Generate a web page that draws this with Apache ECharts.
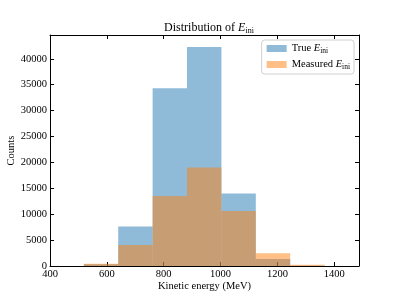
<!DOCTYPE html>
<html><head><meta charset="utf-8">
<script src="https://cdn.jsdelivr.net/npm/echarts@6/dist/echarts.min.js"></script>
<style>html,body{margin:0;padding:0;background:#fff}#c{width:399px;height:299px}</style>
</head><body><div id="c"></div>
<script>
var binEdges = [519, 640, 761, 882, 1003, 1124, 1245, 1366];
var trueCounts = [350, 7650, 34300, 42300, 14000, 1350, 60];
var measuredCounts = [450, 4050, 13500, 19000, 10600, 2450, 220];
var xTicks = [400, 600, 800, 1000, 1200, 1400];
var yTicks = [0, 5000, 10000, 15000, 20000, 25000, 30000, 35000, 40000];

function toData(counts){
  var d = [];
  for (var i = 0; i < counts.length; i++) d.push([binEdges[i], binEdges[i+1], counts[i]]);
  return d;
}
function renderBar(params, api){
  var p0 = api.coord([api.value(0), api.value(2)]);
  var p1 = api.coord([api.value(1), 0]);
  return {type:'rect', shape:{x:p0[0], y:p0[1], width:p1[0]-p0[0], height:p1[1]-p0[1]},
          style:{fill: api.visual('color')}};
}
var FONT = 'Liberation Serif';
var chart = echarts.init(document.getElementById('c'), null, {renderer:'canvas'});
var axisCommon = {
  axisLine:{show:true, onZero:false, lineStyle:{color:'#000', width:1}},
  axisTick:{show:true, inside:true, length:4, lineStyle:{color:'#000'}},
  splitLine:{show:false}
};
function fmtX(v){ return xTicks.indexOf(v) >= 0 ? String(v) : ''; }
function fmtY(v){ return yTicks.indexOf(v) >= 0 ? String(v) : ''; }
var rich = {
  e:{fontFamily:FONT, fontStyle:'italic', fontSize:10.5, color:'#000'},
  s:{fontFamily:FONT, fontSize:7.5, color:'#000', padding:[5,0,0,0]}
};
chart.setOption({
  animation:false,
  backgroundColor:'#fff',
  title:{
    text:'Distribution of {e|E}{s|ini}',
    left:204, top:16, textAlign:'center',
    textStyle:{fontFamily:FONT, fontSize:12, fontWeight:'normal', color:'#000',
      rich:{e:{fontFamily:FONT, fontStyle:'italic', fontSize:12, color:'#000'},
            s:{fontFamily:FONT, fontSize:8, color:'#000', padding:[6,0,0,0]}}}
  },
  legend:{
    orient:'vertical', right:45, top:40,
    itemWidth:20, itemHeight:7, itemGap:4,
    padding:[3,4,3,5],
    borderColor:'#d0d0d0', borderWidth:1, borderRadius:3, backgroundColor:'#fff',
    icon:'rect',
    data:['True','Measured'],
    formatter:function(n){ return n === 'True' ? 'True {e|E}{s|ini}' : 'Measured {e|E}{s|ini}'; },
    textStyle:{fontFamily:FONT, fontSize:10.5, color:'#000', rich:rich}
  },
  grid:{left:50, right:40, top:35, bottom:33, containLabel:false, outerBoundsMode:'none'},
  xAxis:[
    Object.assign({type:'value', min:400, max:1487, interval:200, position:'bottom',
      name:'Kinetic energy (MeV)', nameLocation:'middle', nameGap:15, nameMoveOverlap:false,
      nameTextStyle:{fontFamily:FONT, fontSize:10.5, color:'#000'},
      axisLabel:{fontFamily:FONT, fontSize:10.5, color:'#000', margin:3, formatter:fmtX, showMaxLabel:false}
    }, axisCommon),
    Object.assign({type:'value', min:400, max:1487, interval:200, position:'top',
      axisLabel:{show:false}}, axisCommon)
  ],
  yAxis:[
    Object.assign({type:'value', min:0, max:44600, interval:5000, position:'left',
      name:'Counts', nameLocation:'middle', nameGap:33, nameMoveOverlap:false,
      nameTextStyle:{fontFamily:FONT, fontSize:10.5, color:'#000'},
      axisLabel:{fontFamily:FONT, fontSize:10.5, color:'#000', margin:3, formatter:fmtY, showMaxLabel:false}
    }, axisCommon),
    Object.assign({type:'value', min:0, max:44600, interval:5000, position:'right',
      axisLabel:{show:false}}, axisCommon)
  ],
  series:[
    {name:'True', type:'custom', renderItem:renderBar, xAxisIndex:0, yAxisIndex:0,
     encode:{x:[0,1], y:2}, itemStyle:{color:'rgba(31,119,180,0.5)'}, data:toData(trueCounts)},
    {name:'Measured', type:'custom', renderItem:renderBar, xAxisIndex:0, yAxisIndex:0,
     encode:{x:[0,1], y:2}, itemStyle:{color:'rgba(255,127,14,0.5)'}, data:toData(measuredCounts)}
  ]
});
</script></body></html>
